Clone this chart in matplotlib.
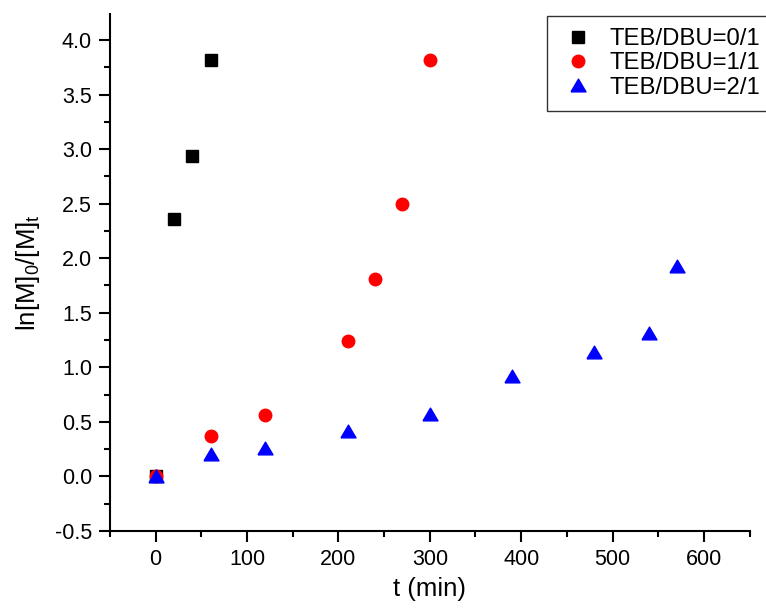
import matplotlib.pyplot as plt
from matplotlib.ticker import MultipleLocator

plt.rcParams['font.family'] = ['Liberation Sans', 'DejaVu Sans']
plt.rcParams['mathtext.default'] = 'regular'

t0 = [0, 20, 40, 60]
y0 = [0.0, 2.36, 2.94, 3.82]

t1 = [0, 60, 120, 210, 240, 270, 300]
y1 = [0.0, 0.37, 0.56, 1.24, 1.81, 2.50, 3.82]

t2 = [0, 60, 120, 210, 300, 390, 480, 540, 570]
y2 = [0.0, 0.21, 0.26, 0.42, 0.57, 0.92, 1.14, 1.31, 1.93]

labels = ['TEB/DBU=0/1', 'TEB/DBU=1/1', 'TEB/DBU=2/1']

# slightly flattened triangle, like Origin's
tri = [(-1, -0.85), (1, -0.85), (0, 0.85), (-1, -0.85)]

fig = plt.figure(figsize=(7.66, 6.15), dpi=100)
ax = fig.add_axes([0.1436, 0.1366, 0.835, 0.841])

ax.plot(t0, y0, 's', color='black', ms=8.5, ls='none', label=labels[0])
ax.plot(t1, y1, 'o', color='red', ms=9, ls='none', label=labels[1])
ax.plot(t2, y2, marker=tri, color='blue', ms=10.8, ls='none', label=labels[2])

ax.set_xlim(-50, 650)
ax.set_ylim(-0.5, 4.24)
ax.xaxis.set_major_locator(MultipleLocator(100))
ax.xaxis.set_minor_locator(MultipleLocator(50))
ax.yaxis.set_major_locator(MultipleLocator(0.5))
ax.yaxis.set_minor_locator(MultipleLocator(0.25))
ax.set_xticks([0, 100, 200, 300, 400, 500, 600])
ax.yaxis.set_major_formatter(plt.FormatStrFormatter('%.1f'))

for s in ['top', 'right']:
    ax.spines[s].set_visible(False)
for s in ['left', 'bottom']:
    ax.spines[s].set_linewidth(1.5)

ax.tick_params(which='major', direction='out', length=8, width=1.5, labelsize=15.5, pad=5)
ax.tick_params(which='minor', direction='out', length=4.5, width=1.5)

ax.set_xlabel('t (min)', fontsize=18.5, labelpad=5)
ax.set_ylabel('ln[M]$_0$/[M]$_t$', fontsize=18.5, labelpad=9)

leg = ax.legend(loc='upper left', bbox_to_anchor=(547 / 766, 1 - 16 / 615),
                bbox_transform=fig.transFigure, fontsize=17.2,
                frameon=True, fancybox=False, edgecolor='black',
                borderaxespad=0.0, handletextpad=0.5, labelspacing=0.1,
                borderpad=0.5, handlelength=1.6)
leg.get_frame().set_linewidth(1.0)

fig.savefig('out.png', dpi=100)
